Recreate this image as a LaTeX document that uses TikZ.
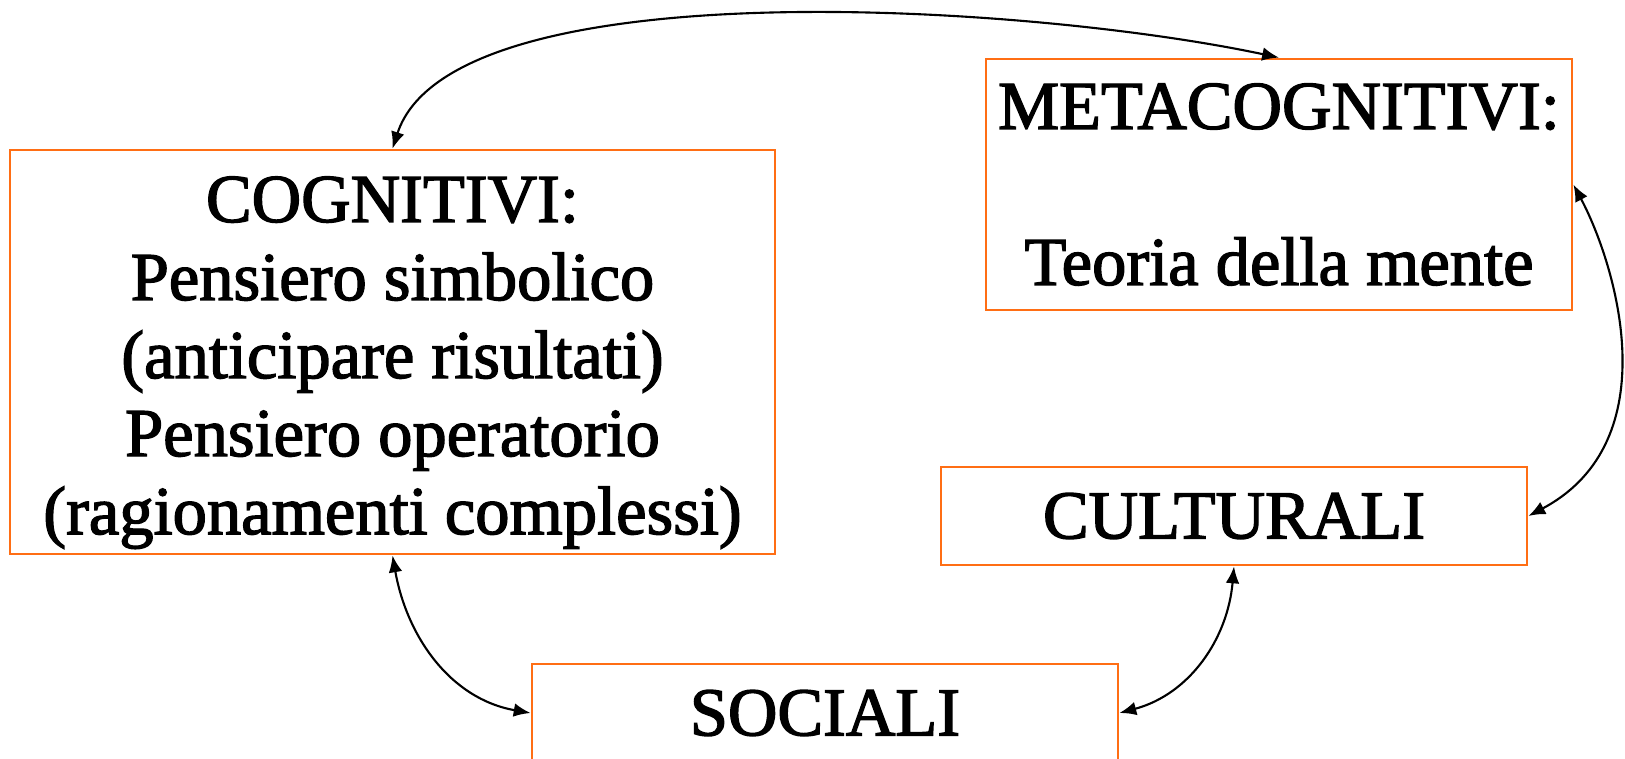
\documentclass[tikz,border=0pt]{standalone}
\usepackage{fontspec}
\setmainfont{Liberation Serif}[FakeBold=2]
\usetikzlibrary{arrows.meta, positioning}
\definecolor{boxorange}{RGB}{255,110,20}

\begin{document}
\begin{tikzpicture}[
    every node/.style={font=\fontsize{19.5}{22.2}\selectfont},
    factor/.style={draw=boxorange, line width=0.8pt, fill=white,
                   align=center, inner sep=0pt},
    link/.style={{Latex[length=4.8pt,width=3.9pt]}-{Latex[length=4.8pt,width=3.9pt]},
                 line width=0.6pt}
  ]
    % Canvas
    \useasboundingbox (0,0) rectangle (16.25,-7.58);

    % Factors
    \node[factor, minimum width=7.65cm, minimum height=4.04cm] (cog) at (3.925,-3.52)
      {\rule{0pt}{19pt}COGNITIVI:\\Pensiero simbolico\\(anticipare risultati)\\Pensiero operatorio\\(ragionamenti complessi)};
    \node[factor, minimum width=5.86cm, minimum height=2.51cm] (meta) at (12.79,-1.845)
      {METACOGNITIVI:\\[22.2pt]Teoria della mente};
    \node[factor, minimum width=5.86cm, minimum height=0.98cm] (cult) at (12.34,-5.16) {CULTURALI};
    \node[factor, minimum width=5.86cm, minimum height=0.98cm] (soc) at (8.25,-7.13) {SOCIALI};

    % Links
    \draw[link] (cog.north) .. controls +(72:1.9) and +(168:2.6) .. (meta.north);
    \draw[link] (meta.east) .. controls +(-62:0.9) and +(28:1.6) .. (cult.east);
    \draw[link] (cog.south) to[out=-80, in=170] (soc.west);
    \draw[link] (cult.south) to[out=-95, in=15] (soc.east);
\end{tikzpicture}
\end{document}
